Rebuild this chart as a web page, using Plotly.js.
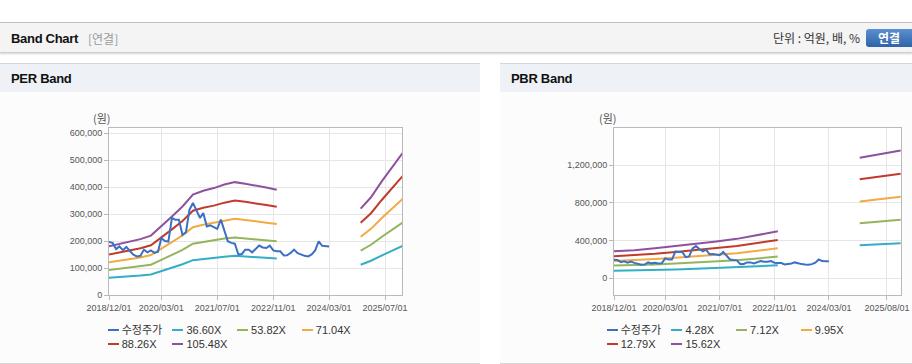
<!DOCTYPE html>
<html><head><meta charset="utf-8">
<script src="https://cdn.plot.ly/plotly-3.0.1.min.js"></script>
<style>
body{margin:0;width:912px;height:364px;overflow:hidden;background:#fff;position:relative;font-family:"Liberation Sans",Arial,"Noto Sans CJK KR",sans-serif}
.abs{position:absolute}
#topline{left:0;top:22px;width:912px;height:1px;background:#c2c2c2}
#bar{left:0;top:23px;width:912px;height:29px;background:#f4f4f4;border-bottom:1px solid #cfcfcf;box-shadow:0 1px 2px rgba(0,0,0,0.18)}
#title{left:11px;top:31px;font-size:13px;font-weight:bold;color:#111;letter-spacing:-0.3px}
#sub{left:88px;top:31px;font-size:12px;color:#9a9a9a;font-family:"Noto Sans CJK KR",sans-serif;line-height:15px}
#unit{right:52px;top:30px;font-size:12px;color:#333;font-family:"Noto Sans CJK KR",sans-serif;line-height:16px}
#btn{left:866px;top:29px;width:50px;height:18px;border-radius:3px;background:linear-gradient(#5a8fd0,#2f63a9);color:#fff;font-weight:bold;font-size:12px;line-height:18px;text-align:left;padding-left:12px;box-sizing:border-box;font-family:"Noto Sans CJK KR",sans-serif}
.panel{top:63px;height:299px;background:#fcfcfc;border-top:1px solid #d6d6d6;border-bottom:1px solid #d6d6d6}
.phead{left:0;top:0;right:0;height:28px;background:#eef2f7}
.ptitle{left:11px;top:7px;font-size:13px;font-weight:bold;color:#111;letter-spacing:-0.3px}
.unitlbl{font-size:11px;color:#555;font-family:"Noto Sans CJK KR",sans-serif;line-height:12px}
.lg{font-size:11px;color:#333;line-height:12px;white-space:nowrap;font-family:"Liberation Sans","Noto Sans CJK KR",sans-serif}
.lgsym{position:absolute;left:0;top:5px;width:11px;height:2px}
</style></head>
<body>
<div id="topline" class="abs"></div>
<div id="bar" class="abs"></div>
<div id="title" class="abs">Band Chart</div>
<div id="sub" class="abs">[연결]</div>
<div id="unit" class="abs">단위 : 억원, 배, %</div>
<div id="btn" class="abs">연결</div>
<div class="abs panel" style="left:0;width:480px"><div class="abs phead"></div><div class="abs ptitle">PER Band</div></div>
<div class="abs panel" style="left:500px;width:412px"><div class="abs phead"></div><div class="abs ptitle">PBR Band</div></div>
<div id="per" class="abs" style="left:0;top:92px;width:480px;height:270px"></div>
<div id="pbr" class="abs" style="left:500px;top:92px;width:412px;height:270px"></div>
<div class="abs unitlbl" style="left:93px;top:112px">(원)</div>
<div class="abs unitlbl" style="left:599px;top:112px">(원)</div>
<div id="legends"></div>
<script>
// ---- data ----
const seriesColors = ['#3c70c4', '#34aec4', '#94b55c', '#f2aa42', '#c23a2c', '#8e519f'];

const priceStart = '2018-12';
const priceValues = [196000,193000,170000,180000,166000,178000,163000,149000,143000,145000,
  168000,158000,165000,156000,160000,211000,200000,198000,285000,279000,
  279000,223000,232000,316000,341000,310000,285000,304000,254000,258000,
  252000,245000,279000,240000,199000,193000,190000,150000,152000,168000,
  168000,158000,172000,183000,176000,174000,183000,165000,162000,162000,
  146000,147000,156000,168000,155000,150000,145000,143000,150000,165000,
  199000,182000,180000,180000];

const perNames = ['수정주가', '36.60X', '53.82X', '71.04X', '88.26X', '105.48X'];
const perBandDates = ['2018-12-01','2019-03-01','2019-06-01','2019-09-01','2019-12-01','2020-03-01','2020-06-01','2020-09-01','2020-12-01','2021-03-01','2021-06-01','2021-09-01','2021-12-01','2022-03-01','2022-06-01','2022-09-01','2022-12-01','2023-06-01','2024-12-01','2025-03-01','2025-06-01','2025-09-01','2025-12-01'];
const per3660 = [64000,66000,69000,72000,76000,88000,101000,114000,129000,134000,137000,142000,145000,143000,141000,138000,135000,null,112000,127000,146000,164000,182000];
const per5382 = [93000,97000,102000,106000,112000,130000,149000,167000,190000,197000,202000,209000,213000,210000,207000,203000,199000,null,164000,186000,215000,242000,268000];
const per7104 = [121000,127000,134000,139000,148000,171000,196000,221000,251000,260000,267000,275000,282000,278000,274000,268000,263000,null,216000,245000,284000,319000,356000];
const per8826 = [150000,157000,166000,173000,184000,212000,243000,274000,312000,323000,331000,342000,350000,345000,340000,333000,327000,null,268000,303000,351000,395000,440000];
const per10548 = [180000,188000,199000,207000,220000,254000,291000,328000,372000,386000,396000,409000,418000,412000,406000,398000,390000,null,320000,362000,420000,472000,526000];

const pbrNames = ['수정주가', '4.28X', '7.12X', '9.95X', '12.79X', '15.62X'];
const pbrBandDates = ['2018-12-01','2019-06-01','2019-12-01','2020-06-01','2020-12-01','2021-06-01','2021-12-01','2022-06-01','2022-12-01','2023-06-01','2024-12-01','2025-06-01','2025-12-01'];
const pbr428 = [79000,82000,87000,93000,100000,107000,115000,126000,138000,null,350000,360000,372000];
const pbr712 = [134000,138000,146000,156000,167000,178000,190000,209000,230000,null,583000,602000,621000];
const pbr995 = [182000,190000,203000,217000,232000,248000,266000,292000,318000,null,815000,840000,866000];
const pbr1279 = [234000,244000,260000,278000,298000,319000,342000,375000,406000,null,1050000,1080000,1110000];
const pbr1562 = [286000,298000,318000,340000,364000,390000,418000,458000,498000,null,1279000,1318000,1357000];

const perTickVals = ['2018-12-01','2020-03-01','2021-07-01','2022-11-01','2024-03-01','2025-07-01'];
const perTickText = ['2018/12/01','2020/03/01','2021/07/01','2022/11/01','2024/03/01','2025/07/01'];
const pbrTickVals = ['2018-12-01','2020-03-01','2021-07-01','2022-11-01','2024-03-01','2025-08-01'];
const pbrTickText = ['2018/12/01','2020/03/01','2021/07/01','2022/11/01','2024/03/01','2025/08/01'];
const perYTicks = [0,100000,200000,300000,400000,500000,600000];
const pbrYTicks = [0,400000,800000,1200000];

// monthly date labels for the price series
function monthlyDates(start, n) {
  let [y, m] = start.split('-').map(Number);
  const out = [];
  for (let i = 0; i < n; i++) {
    out.push(y + '-' + String(m).padStart(2, '0') + '-01');
    m++; if (m > 12) { m = 1; y++; }
  }
  return out;
}
const priceDates = monthlyDates(priceStart, priceValues.length);

function traces(names, bandDates, bands) {
  const t = [];
  // bands drawn first, price on top
  bands.forEach((vals, i) => {
    t.push({x: bandDates, y: vals, name: names[i + 1], mode: 'lines', connectgaps: false,
      line: {color: seriesColors[i + 1], width: 2}, hoverinfo: 'skip'});
  });
  t.push({x: priceDates, y: priceValues, name: names[0], mode: 'lines',
    line: {color: seriesColors[0], width: 2}, hoverinfo: 'skip'});
  return t;
}

function layout(margin, xRange, tv, tt, yRange, yt) {
  const axFont = {family: 'Liberation Sans, Arial, sans-serif', size: 9, color: '#555'};
  return {
    width: margin.w, height: 270, showlegend: false,
    margin: {l: margin.l, r: margin.r, t: 36, b: 67, pad: 0},
    paper_bgcolor: 'rgba(0,0,0,0)', plot_bgcolor: '#ffffff',
    xaxis: {type: 'date', range: xRange, tickmode: 'array', tickvals: tv, ticktext: tt,
      showgrid: true, gridcolor: '#e6e6e6', gridwidth: 1, showline: true, linecolor: '#b9b9b9',
      linewidth: 1, mirror: true, ticks: 'outside', ticklen: 4, tickcolor: '#b9b9b9',
      tickfont: axFont, zeroline: false, fixedrange: true},
    yaxis: {range: yRange, tickmode: 'array', tickvals: yt, tickformat: ',d',
      showgrid: true, gridcolor: '#e6e6e6', gridwidth: 1, showline: true, linecolor: '#b9b9b9',
      linewidth: 1, mirror: true, ticks: 'outside', ticklen: 4, tickcolor: '#b9b9b9',
      tickfont: axFont, zeroline: false, fixedrange: true}
  };
}

const cfg = {staticPlot: true, displayModeBar: false};
Plotly.newPlot('per', traces(perNames, perBandDates, [per3660, per5382, per7104, per8826, per10548]),
  layout({w: 480, l: 109, r: 78}, ['2018-12-01', '2025-11-26'], perTickVals, perTickText, [0, 618500], perYTicks), cfg);
Plotly.newPlot('pbr', traces(pbrNames, pbrBandDates, [pbr428, pbr712, pbr995, pbr1279, pbr1562]),
  layout({w: 412, l: 114, r: 11}, ['2018-12-01', '2025-12-04'], pbrTickVals, pbrTickText, [-178000, 1595000], pbrYTicks), cfg);

// legends
function legend(names, x0, y0) {
  const host = document.getElementById('legends');
  names.forEach((n, i) => {
    const col = i % 4, row = Math.floor(i / 4);
    const d = document.createElement('div');
    d.className = 'abs lg';
    d.style.left = (x0 + col * 64.7) + 'px';
    d.style.top = (y0 + row * 14) + 'px';
    d.innerHTML = '<span class="lgsym" style="background:' + seriesColors[i] + '"></span><span style="padding-left:14px">' + n + '</span>';
    host.appendChild(d);
  });
}
legend(perNames, 107.7, 324);
legend(pbrNames, 606.7, 324);
</script>
</body></html>
